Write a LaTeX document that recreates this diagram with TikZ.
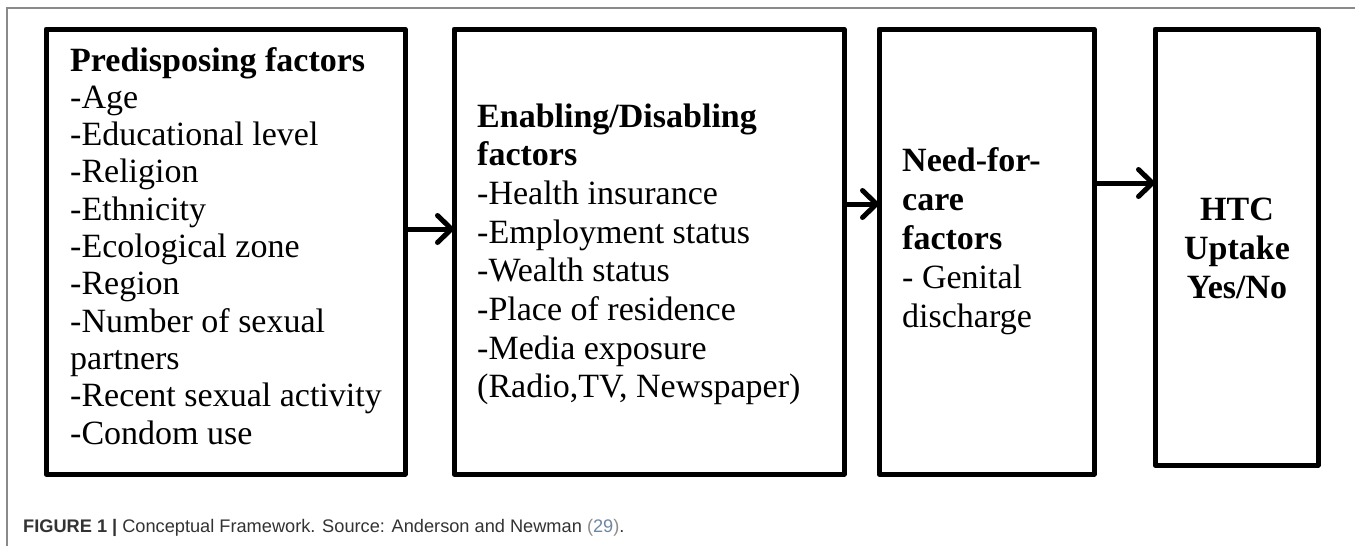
\documentclass[tikz,border=0pt]{standalone}
\usepackage{fontspec}
\setmainfont{Liberation Serif}
\newfontfamily\capfont{Liberation Sans}
\usetikzlibrary{arrows.meta}
\definecolor{framegray}{HTML}{8A8A8A}
\definecolor{captext}{HTML}{333333}
\definecolor{capparen}{HTML}{8C8C8C}
\definecolor{capnum}{HTML}{6F86A3}
\begin{document}
\begin{tikzpicture}[x=1pt,y=-1pt,
  box/.style={draw=black, line width=5pt, line join=round, inner sep=0pt, outer sep=0pt},
  txt/.style={anchor=base west, inner sep=0pt, font=\fontsize{34}{38}\selectfont},
  ctxt/.style={anchor=base, inner sep=0pt, font=\bfseries\fontsize{34}{38}\selectfont},
  arr/.style={line width=5pt, -{Straight Barb[length=14pt,width=27pt,round]}}]
\useasboundingbox (0,0) rectangle (1355,546);
\fill[white] (0,0) rectangle (1355,546);
\draw[framegray, line width=1.5pt] (7,546) -- (7,8) -- (1355,8);
% boxes
\node[box, minimum width=359pt, minimum height=445pt] (b1) at (225.5,251.5) {};
\node[box, minimum width=390pt, minimum height=445pt] (b2) at (649,251.5) {};
\node[box, minimum width=215pt, minimum height=445pt] (b3) at (986.5,251.5) {};
\node[box, minimum width=163pt, minimum height=436pt] (b4) at (1236.5,247) {};
% arrows
\coordinate (y1) at (0,229);
\coordinate (y2) at (0,204);
\coordinate (y3) at (0,183);
\draw[arr] (b1.east |- y1) -- (b2.west |- y1);
\draw[arr] (b2.east |- y2) -- (b3.west |- y2);
\draw[arr] (b3.east |- y3) -- (b4.west |- y3);
% box 1 text
\foreach [count=\i] \t in {{\bfseries Predisposing factors},-Age,-Educational level,-Religion,-Ethnicity,-Ecological zone,-Region,-Number of sexual,partners,-Recent sexual activity,-Condom use}
  \node[txt] (p\i) at ({70},{71+37.3*(\i-1)}) {\t};
% box 2 text
\foreach [count=\i] \t in {{\bfseries Enabling/Disabling},{\bfseries factors},-Health insurance,-Employment status,-Wealth status,-Place of residence,-Media exposure,{(Radio,TV, Newspaper)}}
  \node[txt] (e\i) at ({477},{127+38.7*(\i-1)}) {\t};
% box 3 text
\foreach [count=\i] \t in {{\bfseries Need-for-},{\bfseries care},{\bfseries factors},- Genital,discharge}
  \node[txt] (n\i) at ({902},{171+39*(\i-1)}) {\t};
% box 4 text
\foreach [count=\i] \t in {HTC,Uptake,Yes/No}
  \node[ctxt] (h\i) at ({1237},{220+39*(\i-1)}) {\t};
% caption
\node[anchor=base west, inner sep=0pt, text=captext, font=\capfont\fontsize{18.2}{20}\selectfont] (cap) at (23,532)
  {\textbf{FIGURE 1 |} Conceptual Framework. Source: Anderson and Newman \textcolor{capparen}{(}\textcolor{capnum}{29}\textcolor{capparen}{)}.};
\end{tikzpicture}
\end{document}
